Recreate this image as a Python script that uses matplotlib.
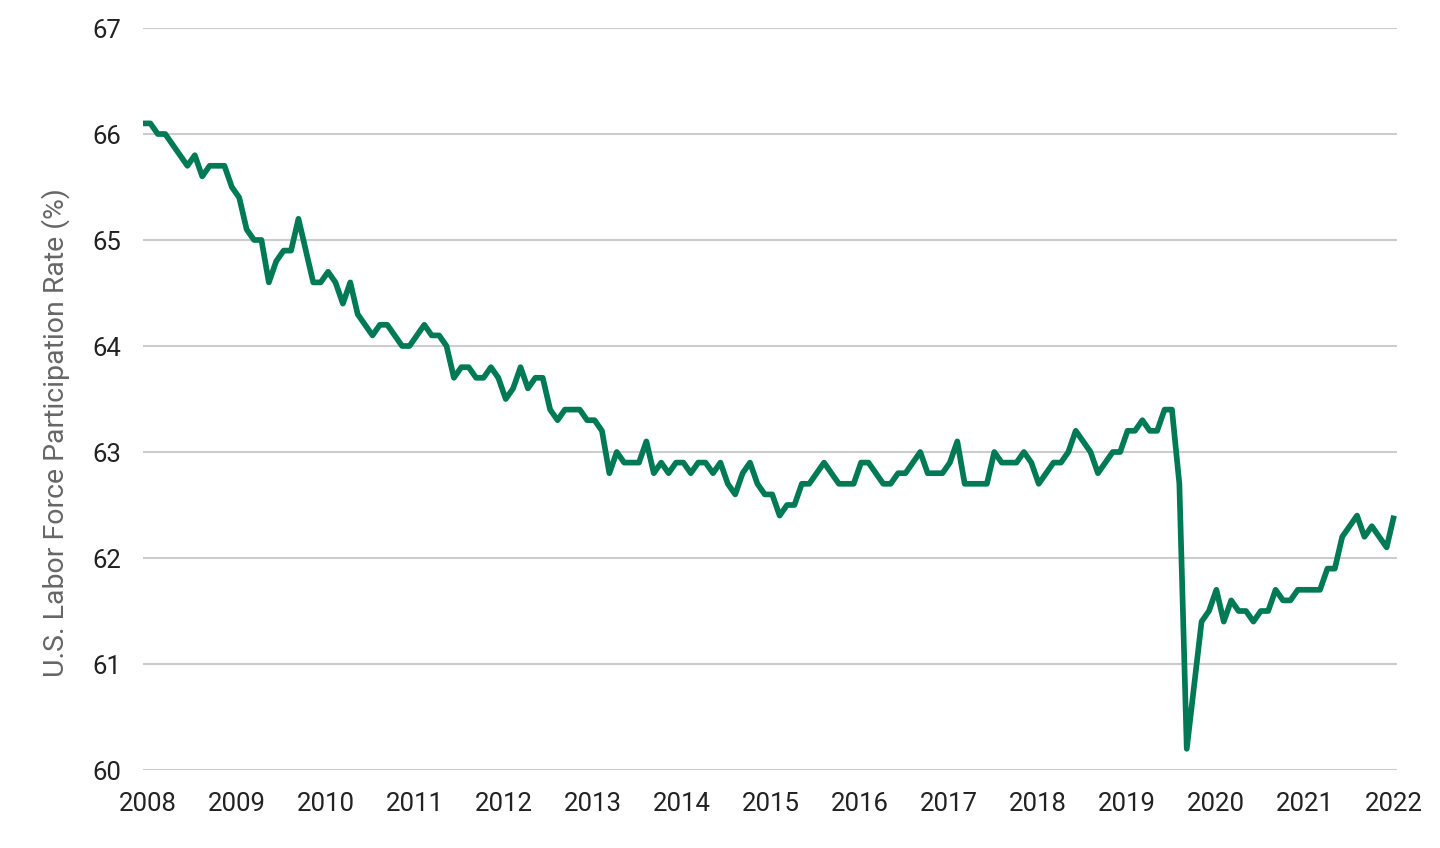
import numpy as np
import matplotlib
matplotlib.use('Agg')
import matplotlib.pyplot as plt

# monthly U.S. labor force participation rate, Jul 2008 - Aug 2022
rate_2008 = [66.1, 66.1, 66.0, 66.0, 65.9, 65.8]
rate_2009 = [65.7, 65.8, 65.6, 65.7, 65.7, 65.7, 65.5, 65.4, 65.1, 65.0, 65.0, 64.6]
rate_2010 = [64.8, 64.9, 64.9, 65.2, 64.9, 64.6, 64.6, 64.7, 64.6, 64.4, 64.6, 64.3]
rate_2011 = [64.2, 64.1, 64.2, 64.2, 64.1, 64.0, 64.0, 64.1, 64.2, 64.1, 64.1, 64.0]
rate_2012 = [63.7, 63.8, 63.8, 63.7, 63.7, 63.8, 63.7, 63.5, 63.6, 63.8, 63.6, 63.7]
rate_2013 = [63.7, 63.4, 63.3, 63.4, 63.4, 63.4, 63.3, 63.3, 63.2, 62.8, 63.0, 62.9]
rate_2014 = [62.9, 62.9, 63.1, 62.8, 62.9, 62.8, 62.9, 62.9, 62.8, 62.9, 62.9, 62.8]
rate_2015 = [62.9, 62.7, 62.6, 62.8, 62.9, 62.7, 62.6, 62.6, 62.4, 62.5, 62.5, 62.7]
rate_2016 = [62.7, 62.8, 62.9, 62.8, 62.7, 62.7, 62.7, 62.9, 62.9, 62.8, 62.7, 62.7]
rate_2017 = [62.8, 62.8, 62.9, 63.0, 62.8, 62.8, 62.8, 62.9, 63.1, 62.7, 62.7, 62.7]
rate_2018 = [62.7, 63.0, 62.9, 62.9, 62.9, 63.0, 62.9, 62.7, 62.8, 62.9, 62.9, 63.0]
rate_2019 = [63.2, 63.1, 63.0, 62.8, 62.9, 63.0, 63.0, 63.2, 63.2, 63.3, 63.2, 63.2]
rate_2020 = [63.4, 63.4, 62.7, 60.2, 60.8, 61.4, 61.5, 61.7, 61.4, 61.6, 61.5, 61.5]
rate_2021 = [61.4, 61.5, 61.5, 61.7, 61.6, 61.6, 61.7, 61.7, 61.7, 61.7, 61.9, 61.9]
rate_2022 = [62.2, 62.3, 62.4, 62.2, 62.3, 62.2, 62.1, 62.4]

year_labels = [str(y) for y in range(2008, 2023)]
y_ticks = [60, 61, 62, 63, 64, 65, 66, 67]

rate = (rate_2008 + rate_2009 + rate_2010 + rate_2011 + rate_2012 + rate_2013
        + rate_2014 + rate_2015 + rate_2016 + rate_2017 + rate_2018 + rate_2019
        + rate_2020 + rate_2021 + rate_2022)
months = np.arange(len(rate))

plt.rcParams['font.family'] = ['Roboto', 'DejaVu Sans']

fig = plt.figure(figsize=(14.4, 8.48), dpi=100)
ax = fig.add_axes([143 / 1440, 1 - 770 / 848, 1254 / 1440, 742 / 848])

ax.plot(months, rate, color='#007a55', linewidth=4.1, solid_joinstyle='round',
        solid_capstyle='butt', clip_on=False, zorder=3)

ax.set_xlim(0, 169.4)
ax.set_ylim(60, 67)
ax.set_yticks(y_ticks)
ax.set_xticks(np.linspace(0.6, 169.0, len(year_labels)))
ax.set_xticklabels(year_labels)

ax.grid(axis='y', color='#cccccc', linewidth=1.5)
ax.set_axisbelow(True)
for side in ['top', 'right', 'left', 'bottom']:
    ax.spines[side].set_visible(False)
ax.tick_params(axis='both', length=0, labelsize=18.5, colors='#222222')
ax.tick_params(axis='x', pad=16)
ax.tick_params(axis='y', pad=16)

ax.set_ylabel('U.S. Labor Force Participation Rate (%)', fontsize=20.5, color='#666666')
ax.yaxis.set_label_coords(-0.058, 0.455)

fig.savefig('out.png', dpi=100)
